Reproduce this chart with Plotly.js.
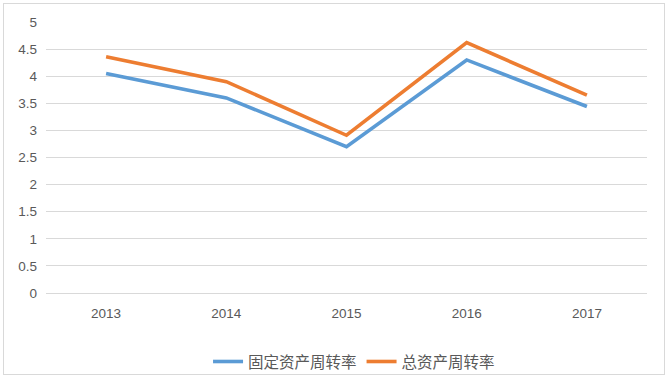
<!DOCTYPE html>
<html><head><meta charset="utf-8">
<script src="https://cdn.plot.ly/plotly-3.0.1.min.js"></script>
<style>
html,body{margin:0;padding:0;background:#fff;}
#wrap{position:relative;width:668px;height:377px;}
#chart{width:668px;height:377px;}
#frame{position:absolute;left:3px;top:3px;width:660px;height:370px;border:1px solid #d9d9d9;pointer-events:none;}
</style></head>
<body>
<div id="wrap"><div id="chart"></div><div id="frame"></div></div>
<script>
const years = ['2013','2014','2015','2016','2017'];
const fixedAssetTurnover = [4.05, 3.60, 2.70, 4.30, 3.44];
const totalAssetTurnover = [4.36, 3.90, 2.91, 4.62, 3.65];
const seriesNames = ['固定资产周转率','总资产周转率'];
const yTicks = [0,0.5,1,1.5,2,2.5,3,3.5,4,4.5,5];

const font = '"Liberation Sans", "Noto Sans", sans-serif';
const traces = [
  {x: years, y: fixedAssetTurnover, name: seriesNames[0], type:'scatter', mode:'lines',
   line:{color:'#5B9BD5', width:3.6}},
  {x: years, y: totalAssetTurnover, name: seriesNames[1], type:'scatter', mode:'lines',
   line:{color:'#ED7D31', width:3.6}}
];
const layout = {
  width:668, height:377,
  margin:{l:46, r:21, t:22, b:84},
  paper_bgcolor:'#fff', plot_bgcolor:'#fff',
  font:{family:font, color:'#595959', size:13},
  xaxis:{type:'category', range:[-0.5,4.5], showgrid:false, zeroline:false,
         showline:false, ticks:'', ticklabelstandoff:10, automargin:false,
         tickfont:{family:font, size:13.5, color:'#595959'}, fixedrange:true},
  yaxis:{range:[0,5], tickvals:yTicks, ticktext:yTicks.map(String),
         showgrid:true, gridcolor:'#d9d9d9', gridwidth:1,
         zeroline:true, zerolinecolor:'#d9d9d9', zerolinewidth:1,
         showline:false, ticks:'', ticklabelstandoff:8, automargin:false,
         tickfont:{family:font, size:13.5, color:'#595959'}, fixedrange:true},
  showlegend:true,
  legend:{orientation:'h', x:0.53, xref:'container', xanchor:'center',
          y:0.040, yref:'container', yanchor:'middle',
          font:{family:'"Noto Sans CJK SC", sans-serif', size:15.5, color:'#595959'},
          itemwidth:30, tracegroupgap:0, bgcolor:'rgba(0,0,0,0)'}
};
Plotly.newPlot('chart', traces, layout, {displayModeBar:false, staticPlot:true});
</script>
</body></html>
